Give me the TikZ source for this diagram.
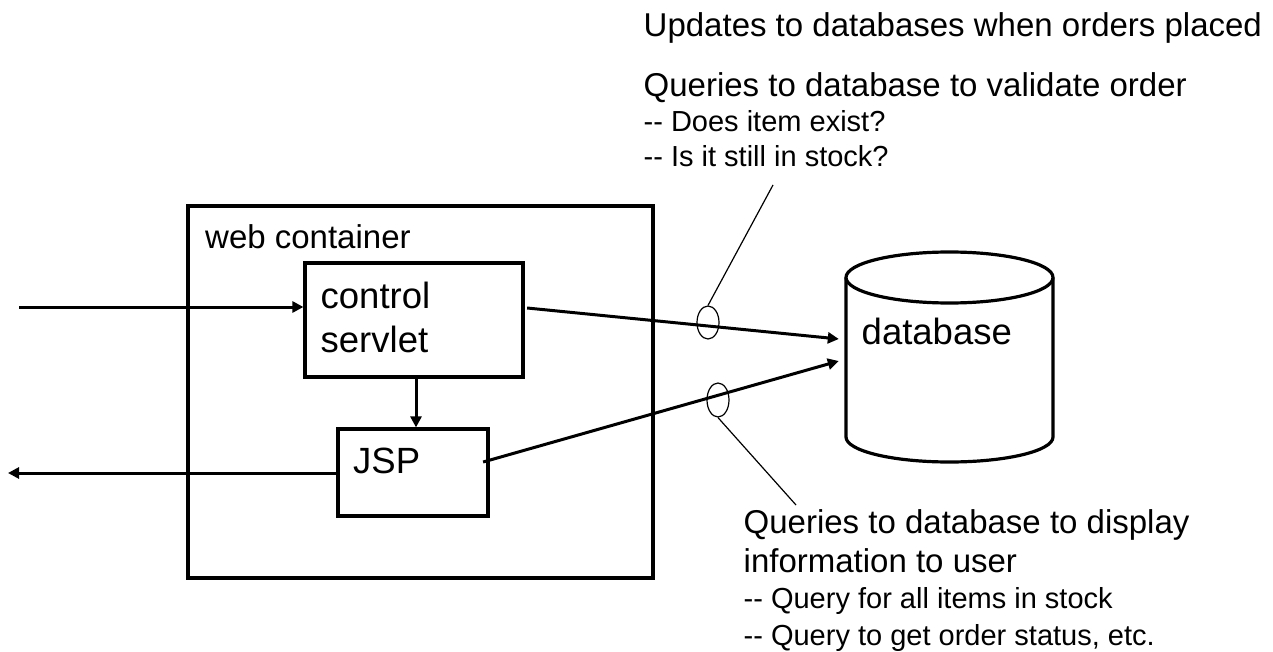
\documentclass[tikz,border=0pt]{standalone}
\usepackage{fontspec}
\setmainfont{Liberation Sans}[Ligatures=TeXOff]
\usetikzlibrary{arrows.meta,shapes.geometric}
\begin{document}
\begin{tikzpicture}[x=1pt,y=-1pt,
  box/.style={draw, line width=3.2pt, inner sep=0pt},
  arr/.style={line width=3pt, -{Triangle[length=11pt,width=11pt]}},
  thinline/.style={line width=1.2pt},
  ovalmark/.style={draw, ellipse, line width=1.2pt, inner sep=0pt},
  big/.style={font=\fontsize{33}{40}\selectfont, inner sep=0pt, anchor=base west},
  small/.style={font=\fontsize{29}{35}\selectfont, inner sep=0pt, anchor=base west},
  lab/.style={font=\fontsize{36.5}{44}\selectfont, inner sep=0pt, anchor=base west}]
\fill[white] (0,0) rectangle (1273,652);
\useasboundingbox (0,0) rectangle (1273,652);

% boxes
\node[box, minimum width=465pt, minimum height=372pt] (wc) at (420.5,392) {};
\node[box, minimum width=218pt, minimum height=114pt] (cs) at (414,320) {};
\node[box, minimum width=150pt, minimum height=87pt] (jsp) at (413,472.5) {};

% database cylinder
\node[inner sep=0pt, minimum width=207pt, minimum height=210pt] (db) at (949.5,357) {};
\draw[line width=3.2pt] (949.5,277.5) ellipse [x radius=103.5, y radius=25.5];
\draw[line width=3.2pt, line join=round] (846,277.5) -- (846,437)
  .. controls (846,450.8) and (892.3,462) .. (949.5,462)
  .. controls (1006.7,462) and (1053,450.8) .. (1053,437) -- (1053,277.5);

% labels in boxes
\node[big] (t-wc) at (205,248) {web container};
\node[lab] (t-control) at (320.5,308) {control};
\node[lab] (t-servlet) at (320.5,352) {servlet};
\node[lab] (t-jsp) at (353,473) {JSP};
\node[lab] (t-db) at (861.5,344) {database};

% connectors
\coordinate (inL) at (19,307);
\coordinate (outL) at (8,473);
\draw[arr] (inL) -- (inL -| cs.west);
\draw[arr] (outL -| jsp.west) -- (outL);
\draw[arr] ([xshift=2pt]cs.south) -- ([xshift=3pt]jsp.north);
\draw[arr] ([xshift=2.5pt,yshift=12pt]cs.east) -- ([xshift=-7pt,yshift=18pt]db.west);
\draw[arr] ([xshift=-6.5pt,yshift=10.5pt]jsp.east) -- ([xshift=-7pt,yshift=-4pt]db.west);

% ellipse markers and leaders
\node[ovalmark, minimum width=22pt, minimum height=33pt] (e1) at (708,322.5) {};
\node[ovalmark, minimum width=22pt, minimum height=34pt] (e2) at (718,400) {};
\coordinate (lead1) at (773,185);
\coordinate (lead2) at (796,505);
\draw[thinline] (e1.north) -- (lead1);
\draw[thinline] (e2.south) -- (lead2);

% annotations
\node[big] (t-upd) at (643.5,36.7) {Updates to databases when orders placed};
\node[big] (t-q1) at (643.5,96.7) {Queries to database to validate order};
\node[small] (t-q1a) at (643.5,132) {-- Does item exist?};
\node[small] (t-q1b) at (643.5,167) {-- Is it still in stock?};
\node[big] (t-q2) at (743.5,533) {Queries to database to display};
\node[big] (t-q2b) at (743.5,572) {information to user};
\node[small] (t-q2c) at (743.5,608) {-- Query for all items in stock};
\node[small] (t-q2d) at (743.5,645) {-- Query to get order status, etc.};
\end{tikzpicture}
\end{document}
